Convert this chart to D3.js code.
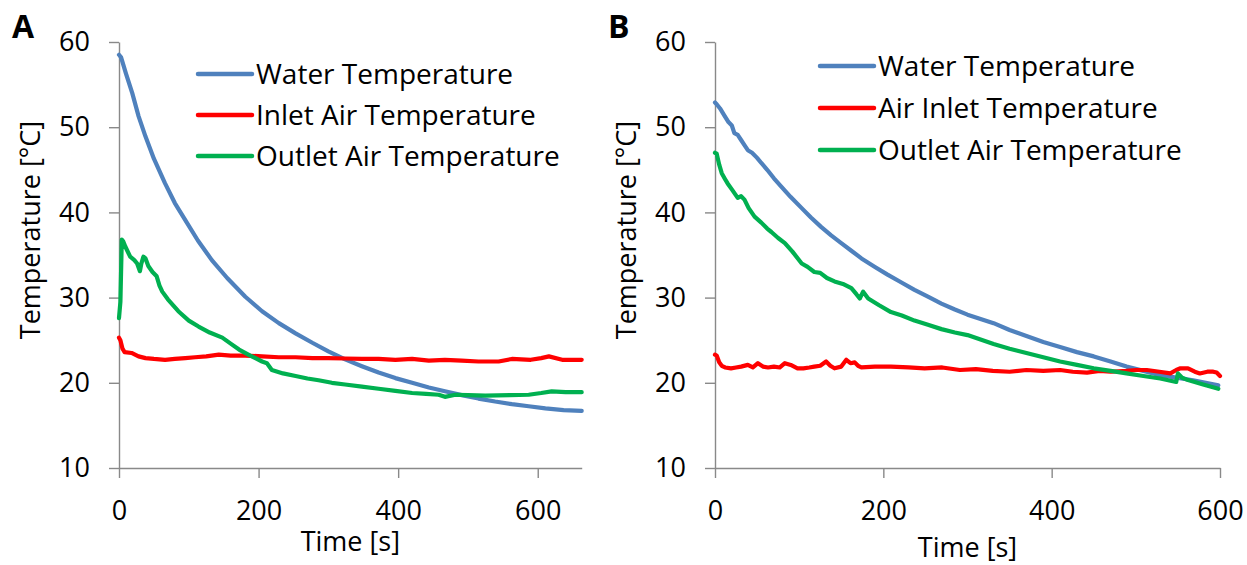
<!DOCTYPE html>
<html>
<head>
<meta charset="utf-8">
<script src="https://cdn.jsdelivr.net/npm/d3@7"></script>
<style>
  body { margin: 0; background: #fff; }
  svg { display: block; font-family: "Open Sans", sans-serif; }
</style>
</head>
<body>
<svg width="1247" height="565"></svg>
<script>
// panel A readings  [time s, temperature °C]
const waterA = [[0,58.5],[3,58.2],[10,56.3],[19,54.0],[28,51.3],[38,48.9],[50,46.3],[66,43.4],[80,41.1],[95,39.1],[113,36.7],[133,34.4],[155,32.3],[181,30.1],[205,28.4],[229,27.0],[253,25.8],[277,24.7],[300,23.7],[324,22.75],[348,21.95],[372,21.2],[396,20.55],[420,20.0],[444,19.45],[467,19.0],[491,18.55],[515,18.15],[539,17.8],[563,17.5],[587,17.25],[611,17.0],[637,16.8],[663,16.7]];
const inletA = [[0,25.3],[2,25.0],[5,24.0],[8,23.6],[18,23.5],[28,23.1],[38,22.9],[50,22.8],[66,22.7],[80,22.8],[95,22.9],[109,23.0],[125,23.1],[143,23.3],[160,23.2],[181,23.2],[205,23.1],[229,23.0],[253,23.0],[277,22.9],[300,22.9],[324,22.85],[348,22.8],[372,22.8],[396,22.7],[420,22.8],[444,22.6],[467,22.7],[491,22.6],[515,22.5],[544,22.5],[563,22.8],[590,22.7],[605,22.9],[616,23.1],[635,22.7],[650,22.7],[663,22.7]];
const outletA = [[0,27.6],[2,29.5],[4,36.8],[6,36.6],[9,36.0],[16,34.8],[22,34.4],[26,34.0],[30,33.1],[32,34.0],[35,34.8],[38,34.6],[42,33.7],[48,33.0],[54,32.5],[58,31.4],[62,30.7],[70,29.8],[85,28.4],[100,27.3],[114,26.6],[130,25.9],[148,25.3],[160,24.6],[172,23.9],[188,23.2],[205,22.5],[212,22.3],[219,21.5],[235,21.1],[253,20.8],[270,20.5],[286,20.3],[305,20.0],[324,19.8],[348,19.55],[372,19.3],[396,19.05],[420,18.8],[440,18.7],[458,18.6],[467,18.35],[482,18.6],[500,18.55],[525,18.5],[560,18.55],[587,18.6],[605,18.8],[620,19.0],[640,18.9],[663,18.9]];

// panel B readings
const waterB = [[0,52.9],[2,52.7],[6,52.2],[11,51.4],[16,50.6],[20,50.2],[23,49.3],[27,49.1],[31,48.5],[35,47.9],[39,47.3],[44,47.0],[50,46.4],[55,45.8],[62,45.0],[70,44.0],[79,43.0],[90,41.8],[103,40.5],[114,39.4],[126,38.3],[138,37.3],[150,36.4],[162,35.5],[174,34.6],[190,33.6],[205,32.7],[221,31.8],[237,30.9],[253,30.1],[269,29.3],[285,28.6],[300,28.0],[331,27.0],[350,26.2],[370,25.5],[390,24.8],[410,24.2],[430,23.6],[450,23.1],[470,22.5],[489,21.9],[509,21.4],[529,20.9],[548,20.6],[568,20.3],[583,20.0],[598,19.7]];
const inletB = [[0,23.3],[2,23.2],[5,22.4],[8,22.0],[12,21.8],[19,21.7],[25,21.8],[31,21.9],[39,22.1],[45,21.8],[51,22.3],[57,21.9],[63,21.8],[70,21.9],[77,21.8],[83,22.3],[90,22.1],[98,21.7],[105,21.7],[112,21.8],[118,21.9],[125,22.0],[132,22.5],[137,22.0],[142,21.7],[150,21.9],[156,22.7],[161,22.3],[166,22.4],[170,22.0],[174,21.8],[190,21.9],[209,21.9],[230,21.8],[249,21.7],[270,21.8],[291,21.5],[310,21.6],[330,21.4],[350,21.3],[370,21.5],[390,21.4],[410,21.5],[425,21.3],[442,21.2],[457,21.4],[470,21.3],[489,21.4],[500,21.5],[513,21.5],[528,21.3],[541,21.1],[548,21.5],[553,21.7],[562,21.7],[570,21.3],[576,21.1],[585,21.3],[592,21.3],[596,21.2],[600,20.8]];
const outletB = [[0,47.0],[2,46.9],[5,45.6],[8,44.6],[12,43.9],[15,43.4],[20,42.7],[27,41.7],[31,41.9],[35,41.5],[40,40.5],[47,39.5],[55,38.8],[62,38.1],[67,37.7],[75,37.0],[83,36.4],[92,35.4],[103,34.0],[110,33.6],[118,33.0],[125,32.9],[133,32.3],[142,31.9],[152,31.6],[162,31.1],[168,30.4],[172,29.9],[176,30.7],[182,29.9],[195,29.1],[209,28.3],[222,27.9],[237,27.3],[253,26.8],[269,26.3],[285,25.9],[300,25.6],[331,24.55],[350,24.0],[370,23.5],[390,23.0],[410,22.5],[430,22.1],[450,21.7],[470,21.4],[489,21.1],[509,20.8],[529,20.5],[548,20.1],[550,21.1],[555,20.6],[560,20.4],[580,19.8],[598,19.3]];

const yTicks = [10, 20, 30, 40, 50, 60];
const xTicks = [0, 200, 400, 600];
const namesA = ["Water Temperature", "Inlet Air Temperature", "Outlet Air Temperature"];
const namesB = ["Water Temperature", "Air Inlet Temperature", "Outlet Air Temperature"];
const colors = ["#4f81bd", "#ff0000", "#00b050"];

var svg = d3.select("svg");
var fs = 27;

function panel(opt) {
  var x = d3.scaleLinear().domain([0, opt.xmax]).range([opt.x0, opt.x1]);
  var y = d3.scaleLinear().domain([10, 60]).range([468, 42]);
  var g = svg.append("g");

  var gx = g.append("g")
    .attr("transform", "translate(0,468)")
    .call(d3.axisBottom(x).tickValues(xTicks).tickSize(10).tickPadding(23).tickSizeOuter(0));
  var gy = g.append("g")
    .attr("transform", "translate(" + opt.x0 + ",0)")
    .call(d3.axisLeft(y).tickValues(yTicks).tickSize(10).tickPadding(19).tickSizeOuter(0));
  [gx, gy].forEach(function(a) {
    a.selectAll("path, line").attr("stroke", "#898989").attr("stroke-width", 1.4);
    a.selectAll("text").attr("font-size", fs).attr("fill", "#000")
      .attr("font-family", "'Open Sans', sans-serif");
  });

  var line = d3.line().x(function(d) { return x(d[0]); }).y(function(d) { return y(d[1]); });
  opt.series.forEach(function(s, i) {
    g.append("path")
      .datum(s)
      .attr("fill", "none")
      .attr("stroke", colors[i])
      .attr("stroke-width", 4.2)
      .attr("stroke-linejoin", "round")
      .attr("stroke-linecap", "round")
      .attr("d", line);
  });

  // legend
  var lg = g.append("g");
  opt.names.forEach(function(n, i) {
    var ly = opt.legY + i * opt.legGap;
    lg.append("line")
      .attr("x1", opt.legX).attr("x2", opt.legX + 54)
      .attr("y1", ly).attr("y2", ly)
      .attr("stroke", colors[i]).attr("stroke-width", 4.5).attr("stroke-linecap", "round");
    lg.append("text")
      .attr("x", opt.legX + 58).attr("y", ly).attr("dy", "0.35em")
      .attr("font-size", 28)
      .text(n);
  });

  // axis titles
  g.append("text")
    .attr("x", (opt.x0 + opt.x1) / 2).attr("y", opt.titleY)
    .attr("text-anchor", "middle").attr("font-size", fs)
    .text("Time [s]");
  g.append("text")
    .attr("transform", "translate(" + (opt.x0 - 79) + ",230) rotate(-90)")
    .attr("text-anchor", "middle").attr("font-size", fs)
    .text("Temperature [°C]");

  g.append("text")
    .attr("x", opt.x0 - 107).attr("y", 38)
    .attr("font-size", 32).attr("font-weight", "bold")
    .text(opt.label);
}

panel({ label: "A", x0: 119, x1: 581.7, xmax: 663, series: [waterA, inletA, outletA],
        names: namesA, legX: 198, legY: 74, legGap: 41, titleY: 551 });
panel({ label: "B", x0: 715, x1: 1220, xmax: 600, series: [waterB, inletB, outletB],
        names: namesB, legX: 820, legY: 66, legGap: 42, titleY: 557 });
</script>
</body>
</html>
